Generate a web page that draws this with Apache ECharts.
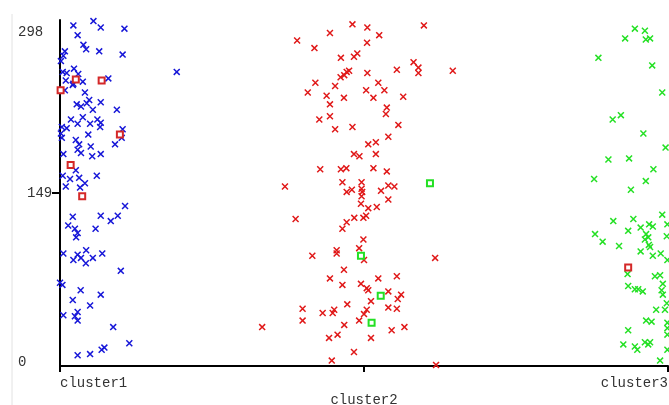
<!DOCTYPE html>
<html>
<head>
<meta charset="utf-8">
<script src="https://cdn.jsdelivr.net/npm/echarts@6/dist/echarts.min.js"></script>
<style>
  html, body { margin: 0; padding: 0; background: #fff; }
  #main { width: 669px; height: 405px; }
</style>
</head>
<body>
<div id="main"></div>
<script>
// nominal x axis, points are [jitter from the category, instance value]
const categories = ['cluster1', 'cluster2', 'cluster3'];
const yTicks = [0, 149, 298];

const cluster1Points = [
  [0.044, 304], [0.110, 308], [0.134, 302], [0.212, 301], [0.058, 295], [0.077, 286],
  [0.086, 282], [0.129, 280], [0.206, 277], [0.016, 280], [0.011, 276], [0.003, 271],
  [0.009, 261], [0.022, 260], [0.046, 264], [0.060, 259], [0.019, 253], [0.044, 250],
  [0.075, 252], [0.159, 255], [0.384, 261], [0.016, 244], [0.042, 249], [0.082, 242],
  [0.096, 235], [0.055, 231], [0.069, 229], [0.088, 232], [0.134, 233], [0.108, 226],
  [0.187, 226], [0.075, 219], [0.036, 217], [0.058, 213], [0.099, 213], [0.123, 217],
  [0.134, 214], [0.132, 210], [0.006, 210], [0.022, 209], [0.003, 204], [0.006, 200],
  [0.093, 203], [0.206, 208], [0.203, 200], [0.181, 194], [0.052, 198], [0.063, 194],
  [0.058, 189], [0.069, 186], [0.101, 192], [0.106, 183], [0.134, 185], [0.011, 185],
  [0.052, 170], [0.009, 165], [0.033, 162], [0.063, 163], [0.082, 158], [0.121, 165],
  [0.066, 154], [0.019, 155], [0.214, 137], [0.042, 127], [0.134, 128], [0.190, 128],
  [0.167, 123], [0.027, 119], [0.049, 116], [0.058, 112], [0.053, 108], [0.117, 116],
  [0.011, 93], [0.058, 92], [0.086, 96], [0.044, 87], [0.069, 89], [0.085, 84],
  [0.108, 89], [0.139, 93], [0.200, 77], [0.000, 66], [0.008, 64], [0.068, 59],
  [0.042, 50], [0.134, 55], [0.099, 45], [0.011, 36], [0.049, 35], [0.058, 39],
  [0.058, 31], [0.175, 25], [0.228, 10], [0.146, 6], [0.137, 4], [0.058, -1], [0.099, 0]
];

const cluster2Points = [
  [-0.038, 305], [0.011, 302], [0.197, 304], [-0.112, 297], [0.050, 295], [-0.220, 290],
  [-0.163, 283], [0.010, 288], [-0.076, 274], [-0.033, 275], [-0.022, 278], [0.163, 270],
  [0.179, 265], [0.179, 260], [0.108, 263], [0.292, 262], [0.011, 260], [-0.049, 262],
  [-0.057, 261], [-0.077, 256], [-0.065, 258], [-0.160, 251], [-0.095, 248], [-0.185, 242],
  [0.047, 251], [0.007, 244], [0.067, 244], [-0.123, 239], [-0.066, 237], [0.031, 237],
  [0.129, 238], [-0.112, 231], [0.075, 228], [0.072, 222], [-0.147, 217], [-0.112, 220],
  [-0.095, 208], [-0.038, 210], [0.113, 212], [0.080, 201], [0.014, 194], [0.039, 196],
  [-0.033, 185], [-0.015, 183], [0.039, 185], [-0.144, 171], [-0.076, 171], [-0.058, 172],
  [0.031, 172], [0.075, 169], [-0.260, 155], [-0.071, 159], [-0.008, 159], [0.080, 156],
  [0.100, 155], [-0.057, 150], [-0.040, 152], [-0.008, 153], [-0.006, 150], [-0.008, 146],
  [0.056, 151], [0.080, 143], [-0.010, 139], [0.014, 135], [0.042, 136], [-0.225, 125],
  [-0.057, 122], [-0.032, 126], [-0.002, 126], [0.007, 128], [-0.071, 116], [-0.002, 106],
  [-0.016, 98], [-0.090, 96], [-0.090, 93], [-0.170, 91], [0.000, 87], [0.234, 89],
  [-0.066, 78], [-0.112, 70], [-0.071, 64], [-0.010, 65], [0.009, 61], [0.014, 59],
  [0.047, 70], [0.108, 72], [0.080, 58], [0.122, 55], [0.111, 51], [0.023, 49],
  [-0.202, 42], [-0.202, 31], [-0.136, 38], [-0.103, 38], [-0.098, 41], [-0.055, 46],
  [0.009, 41], [0.000, 37], [-0.016, 31], [0.080, 43], [0.108, 42], [-0.335, 25],
  [-0.065, 27], [-0.087, 18], [-0.115, 15], [0.023, 15], [0.091, 22], [0.133, 25],
  [-0.033, 2], [-0.106, -6], [0.237, -10]
];

const cluster3Points = [
  [-0.109, 301], [-0.076, 299], [-0.141, 292], [-0.073, 291], [-0.059, 292], [-0.229, 274],
  [-0.052, 267], [-0.019, 242], [-0.182, 217], [-0.155, 221], [-0.081, 204], [-0.008, 191],
  [-0.196, 180], [-0.128, 181], [-0.048, 171], [-0.243, 162], [-0.073, 160], [-0.122, 152],
  [-0.019, 129], [-0.002, 120], [-0.180, 123], [-0.114, 125], [-0.240, 111], [-0.215, 104],
  [-0.131, 114], [-0.090, 117], [-0.062, 120], [-0.050, 118], [-0.004, 109], [-0.072, 111],
  [-0.065, 108], [-0.076, 106], [-0.161, 100], [-0.063, 101], [-0.059, 99], [-0.090, 95],
  [-0.050, 91], [-0.024, 93], [-0.002, 87], [-0.133, 74], [-0.043, 72], [-0.026, 73],
  [-0.131, 63], [-0.109, 60], [-0.098, 60], [-0.083, 58], [-0.017, 65], [-0.021, 59],
  [-0.017, 55], [-0.039, 41], [-0.010, 41], [-0.004, 47], [-0.072, 31], [-0.054, 30],
  [-0.002, 29], [-0.131, 22], [-0.002, 24], [-0.147, 9], [-0.109, 7], [-0.101, 4],
  [-0.076, 11], [-0.065, 9], [-0.059, 11], [-0.002, 18], [-0.002, 4], [-0.026, -6]
];

// instances whose class does not match the cluster: [cluster index, jitter, value]
const redSquares = [
  [0, 0.052, 254], [0, 0.137, 253], [0, 0.002, 244], [0, 0.197, 203], [0, 0.035, 175],
  [0, 0.073, 146], [2, -0.131, 80]
];
const greenSquares = [
  [1, 0.217, 158], [1, -0.010, 91], [1, 0.055, 54], [1, 0.025, 29]
];

const BLUE = '#1616d8';
const RED = '#e01818';
const GREEN = '#24e024';
const FONT = 'Liberation Mono';

const crossPath = 'path://M0,1.5L1.5,0L10,8.5L8.5,10Z M8.5,0L10,1.5L1.5,10L0,8.5Z';

const place = (idx, pts) => pts.map((p) => [idx + p[0], p[1]]);
const placeSq = (pts) => pts.map((p) => [p[0] + p[1], p[2]]);

const crossSeries = (name, data, color) => ({
  name,
  type: 'scatter',
  data,
  symbol: crossPath,
  symbolSize: 7,
  itemStyle: { color, opacity: 1 },
  emphasis: { disabled: true },
  silent: true,
  clip: true,
});

const squareSeries = (name, data, color) => ({
  name,
  type: 'scatter',
  data,
  symbol: 'rect',
  symbolSize: 6,
  itemStyle: { color: '#fff', borderColor: color, borderWidth: 2, opacity: 1 },
  emphasis: { disabled: true },
  silent: true,
  z: 3,
});

const myChart = echarts.init(document.getElementById('main'));

const option = {
  animation: false,
  backgroundColor: '#fff',
  grid: {
    left: 60,
    right: 1,
    top: 20,
    bottom: 39,
    containLabel: false,
    outerBoundsMode: 'none',
  },
  graphic: [
    {
      type: 'line',
      shape: { x1: 12, y1: 14, x2: 12, y2: 405 },
      style: { stroke: '#e2e2e2', lineWidth: 1 },
      silent: true,
    },
  ],
  xAxis: {
    type: 'value',
    min: 0,
    max: 2,
    interval: 1,
    splitLine: { show: false },
    axisLine: { show: true, onZero: false, lineStyle: { color: '#000', width: 2 } },
    axisTick: { show: true, length: 6, lineStyle: { color: '#000', width: 2 } },
    axisLabel: {
      margin: 10,
      fontFamily: FONT,
      fontSize: 14,
      color: '#333',
      alignMinLabel: 'left',
      alignMaxLabel: 'right',
      formatter: (v) => (v === 1 ? '{m|' + categories[v] + '}' : categories[v]),
      rich: {
        m: { fontFamily: FONT, fontSize: 14, color: '#333', padding: [17, 0, 0, 0] },
      },
    },
  },
  yAxis: {
    type: 'value',
    min: -11,
    max: 309,
    splitLine: { show: false },
    axisLine: { show: true, onZero: false, lineStyle: { color: '#000', width: 2 } },
    axisTick: {
      show: true,
      length: 8,
      customValues: [yTicks[1]],
      lineStyle: { color: '#000', width: 2 },
    },
    axisLabel: {
      customValues: yTicks,
      align: 'left',
      margin: 42,
      fontFamily: FONT,
      fontSize: 14,
      color: '#333',
      formatter: (v) => {
        if (v === yTicks[0]) return '{z|' + v + '}';
        if (v === yTicks[1]) return '{h|' + v + '}';
        return String(v);
      },
      rich: {
        z: { fontFamily: FONT, fontSize: 14, color: '#333', padding: [16, 0, 0, 0] },
        h: { fontFamily: FONT, fontSize: 14, color: '#333', padding: [0, 0, 0, 9] },
      },
    },
  },
  series: [
    crossSeries('cluster1', place(0, cluster1Points), BLUE),
    crossSeries('cluster2', place(1, cluster2Points), RED),
    crossSeries('cluster3', place(2, cluster3Points), GREEN),
    squareSeries('red', placeSq(redSquares), '#d42828'),
    squareSeries('green', placeSq(greenSquares), GREEN),
  ],
};

myChart.setOption(option);
</script>
</body>
</html>
